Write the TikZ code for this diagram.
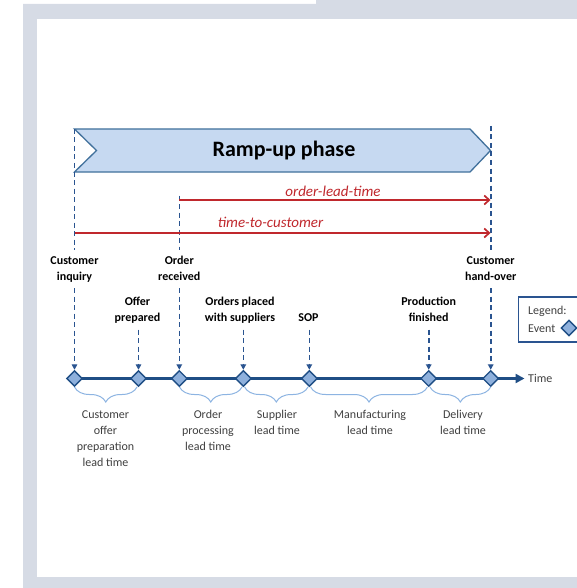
\documentclass[tikz,border=0pt]{standalone}
\usepackage{fontspec}
\setmainfont{Carlito}
\usetikzlibrary{arrows.meta,decorations.pathreplacing,shapes.geometric,calc}
\definecolor{bggrey}{HTML}{D6DBE5}
\definecolor{chevfill}{HTML}{C6D9F1}
\definecolor{chevline}{HTML}{41719C}
\definecolor{dkblue}{HTML}{2A5490}
\definecolor{axblue}{HTML}{1F4E85}
\definecolor{evfill}{HTML}{8EB0DC}
\definecolor{brblue}{HTML}{8DB4E2}
\definecolor{redc}{HTML}{C0282D}
\definecolor{txtgrey}{HTML}{404040}
\newcommand\stackl[1]{\begin{tabular}[t]{@{}c@{}}#1\end{tabular}}
\begin{document}
\begin{tikzpicture}[x=1pt,y=-1pt,
  evt/.style={diamond,draw=axblue,fill=evfill,line width=1.4pt,minimum width=16pt,minimum height=16pt,inner sep=0pt,aspect=1},
  dsh/.style={draw=dkblue,line width=1.6pt,dash pattern=on 5pt off 3.5pt},
  dsharr/.style={dsh,-{Triangle[length=5.5pt,width=5.5pt]}},
  toplbl/.style={font=\fontsize{12}{16}\selectfont\bfseries,text=black,inner sep=3pt,anchor=base},
  botlbl/.style={font=\fontsize{12}{16}\selectfont,text=txtgrey,inner sep=1pt,anchor=base},
  redarr/.style={draw=redc,line width=1.7pt,-{Straight Barb[length=5pt,width=9pt]}},
  redlbl/.style={font=\fontsize{15}{18}\selectfont\itshape,text=redc,anchor=base,inner sep=0pt},
  brc/.style={draw=brblue,line width=1pt,decorate,decoration={brace,mirror,amplitude=15pt}},
  axisln/.style={draw=axblue,line width=3.2pt,-{Triangle[length=9pt,width=9pt]}},
  chev/.style={draw=chevline,fill=chevfill,line width=1.3pt,line join=miter},
  legtxt/.style={font=\fontsize{12}{14}\selectfont,text=txtgrey,anchor=base west,inner sep=0pt}
]
\useasboundingbox (0,0) rectangle (577,588);
\clip (0,0) rectangle (577,588);
% background frame
\fill[bggrey] (23,4) -- (316,4) -- (316,0) -- (577,0) -- (577,588) -- (23,588) -- cycle;
\fill[white] (37,19) rectangle (577,577);

% chevron
\draw[chev] (74.5,129) -- (470,129) -- (490.5,150.5) -- (470,172) -- (74.5,172) -- (96.5,150.5) -- cycle;
\node[font=\fontsize{22}{26}\selectfont\bfseries,anchor=base,inner sep=0pt] (ramp) at (284,157) {Ramp-up phase};

% coordinates
\coordinate (c1top) at (74.5,129);
\coordinate (c3top) at (179.3,195.5);
\coordinate (c7top) at (490.7,126);
\coordinate (olt0) at (179.3,200);
\coordinate (olt1) at (490.5,200);
\coordinate (ttc0) at (74.5,233);
\coordinate (ttc1) at (490.5,233);
\coordinate (ax0) at (74.5,378.5);
\coordinate (tend) at (524.5,378.5);

% axis
\draw[axisln] (ax0) -- (tend);

% events
\node[evt] (d1) at (74.5,378.5) {};
\node[evt] (d2) at (138.5,378.5) {};
\node[evt] (d3) at (179.3,378.5) {};
\node[evt] (d4) at (243.3,378.5) {};
\node[evt] (d5) at (309.3,378.5) {};
\node[evt] (d6) at (428.7,378.5) {};
\node[evt] (d7) at (490.7,378.5) {};

% top labels
\node[toplbl] (l1) at (74.5,264) {\stackl{Customer\\inquiry}};
\node[toplbl] (l2) at (137.5,305.5) {\stackl{Offer\\prepared}};
\node[toplbl] (l3) at (179.3,264) {\stackl{Order\\received}};
\node[toplbl] (l4) at (240,305.5) {\stackl{Orders placed\\with suppliers}};
\node[toplbl] (l5) at (308.5,321.5) {\stackl{SOP}};
\node[toplbl] (l6) at (428.7,305.5) {\stackl{Production\\finished}};
\node[toplbl] (l7) at (490.7,264) {\stackl{Customer\\hand-over}};

% dashed lines
\draw[dsh] (c1top) -- (c1top |- l1.north);
\draw[dsharr] (l1.south -| d1) -- (d1.north);
\draw[dsharr] (l2.south -| d2) -- (d2.north);
\draw[dsh] (c3top) -- (c3top |- l3.north);
\draw[dsharr] (l3.south -| d3) -- (d3.north);
\draw[dsharr] (l4.south -| d4) -- (d4.north);
\draw[dsharr] (l5.south -| d5) -- (d5.north);
\draw[dsharr] (l6.south -| d6) -- (d6.north);
\draw[dsh] (c7top) -- (c7top |- l7.north);
\draw[dsharr] (l7.south -| d7) -- (d7.north);

% red arrows
\draw[redarr] (olt0) -- (olt1);
\node[redlbl] (oltl) at (333,196) {order-lead-time};
\draw[redarr] (ttc0) -- (ttc1);
\node[redlbl] (ttcl) at (270.5,227.5) {time-to-customer};

% time label
\node[legtxt] (timel) at (528,382) {Time};

% braces
\draw[brc] ($(d1)+(0,8.5)$) -- ($(d2)+(-1.5,8.5)$);
\draw[brc] ($(d3)+(0.2,8.5)$) -- ($(d4)+(-1.3,8.5)$);
\draw[brc] ($(d4)+(1.3,8.5)$) -- ($(d5)+(-1.3,8.5)$);
\draw[brc] ($(d5)+(1.3,8.5)$) -- ($(d6)+(-1.3,8.5)$);
\draw[brc] ($(d6)+(1.3,8.5)$) -- ($(d7)+(0,8.5)$);

% bottom labels
\node[botlbl] (b1) at (105.5,418) {\stackl{Customer\\offer\\preparation\\lead time}};
\node[botlbl] (b2) at (208,418) {\stackl{Order\\processing\\lead time}};
\node[botlbl] (b3) at (277,418) {\stackl{Supplier\\lead time}};
\node[botlbl] (b4) at (370,418) {\stackl{Manufacturing\\lead time}};
\node[botlbl] (b5) at (463,418) {\stackl{Delivery\\lead time}};

% legend
\draw[draw=dkblue,fill=white,line width=1.4pt] (518.5,297) rectangle (600,342);
\node[legtxt] (legl) at (528,314) {Legend:};
\node[legtxt] (lege) at (528,332.5) {Event};
\node[evt] (legd) at (569,328) {};
\end{tikzpicture}
\end{document}
